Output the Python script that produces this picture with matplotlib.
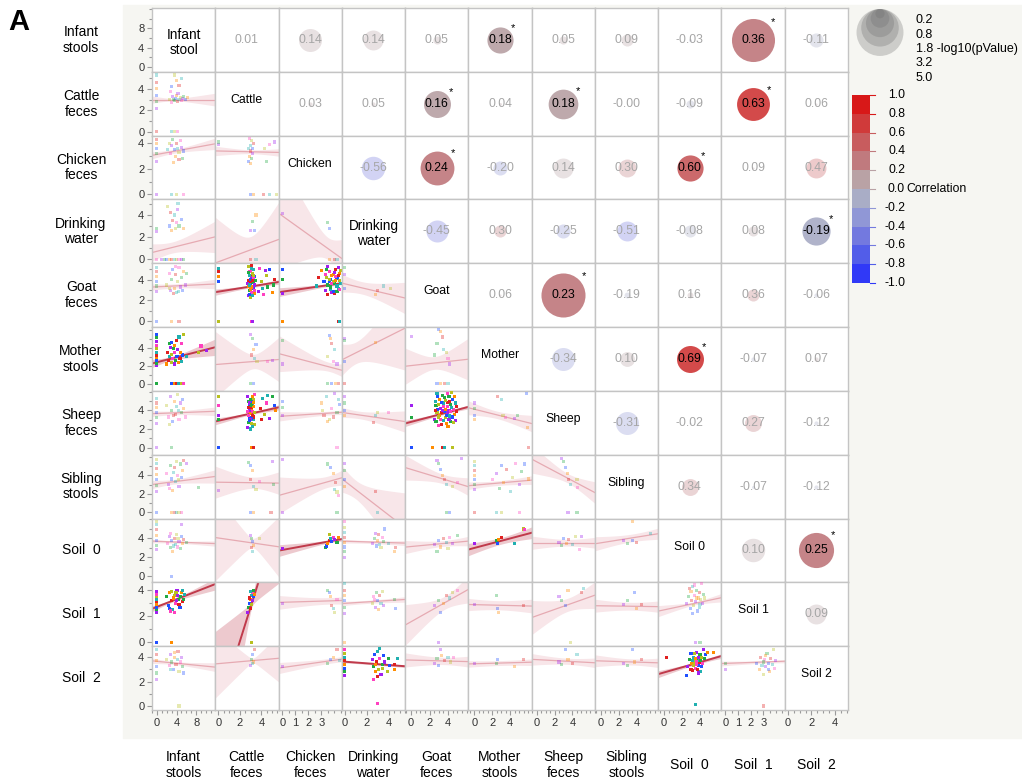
import matplotlib.pyplot as plt
import numpy as np
from matplotlib.colors import BoundaryNorm, ListedColormap
from matplotlib.patches import Circle, Rectangle
from matplotlib.ticker import MultipleLocator

plt.rcParams["font.family"] = ["Liberation Sans", "DejaVu Sans"]

W, H, DPI = 1022, 783, 100
GRID_X0, GRID_X1, GRID_Y0, GRID_Y1 = 152, 848, 8, 710

ROW_LABELS = ["Infant\nstools", "Cattle\nfeces", "Chicken\nfeces", "Drinking\nwater",
              "Goat\nfeces", "Mother\nstools", "Sheep\nfeces", "Sibling\nstools",
              "Soil  0", "Soil  1", "Soil  2"]
COL_LABELS = ROW_LABELS
DIAG_LABELS = ["Infant\nstool", "Cattle", "Chicken", "Drinking\nwater", "Goat", "Mother",
               "Sheep", "Sibling", "Soil 0", "Soil 1", "Soil 2"]

# axis scales per variable (x when in a column, y when in a row)
X_RANGE = [(-1.0, 11.9), (-0.28, 5.6), (-0.3, 4.57), (-0.27, 5.5), (-0.65, 6.2),
           (-0.67, 6.4), (-0.55, 6.5), (-0.67, 6.4), (-0.67, 6.4), (-0.3, 4.7), (-0.26, 5.1)]
Y_RANGE = [(-1.0, 12.2), (-0.37, 5.6), (-0.39, 4.6), (-0.36, 5.4), (-0.58, 5.6),
           (-0.78, 6.3), (-0.76, 6.1), (-0.65, 6.2), (-0.63, 6.1), (-0.3, 4.6), (-0.33, 4.9)]
X_TICKS = [[0, 4, 8], [0, 2, 4], [0, 1, 2, 3], [0, 2, 4], [0, 2, 4], [0, 2, 4],
           [0, 2, 4], [0, 2, 4], [0, 2, 4], [0, 1, 2, 3], [0, 2, 4]]
Y_TICKS = [[0, 4, 8]] + [[0, 2, 4]] * 10
X_MINOR = [1, 0.5, 0.5, 0.5, 0.5, 0.5, 0.5, 0.5, 0.5, 0.5, 0.5]
Y_MINOR = [2] + [1] * 10

# upper triangle: correlation and -log10(p), row i holds columns i+1..10
CORR = [
    [0.01, 0.14, 0.14, 0.05, 0.18, 0.05, 0.09, -0.03, 0.36, -0.11],
    [0.03, 0.05, 0.16, 0.04, 0.18, -0.0, -0.09, 0.63, 0.06],
    [-0.56, 0.24, -0.20, 0.14, 0.30, 0.60, 0.09, 0.47],
    [-0.45, 0.30, -0.25, -0.51, -0.08, 0.08, -0.19],
    [0.06, 0.23, -0.19, 0.16, 0.36, -0.06],
    [-0.34, 0.10, 0.69, -0.07, 0.07],
    [-0.31, -0.02, 0.27, -0.12],
    [0.34, -0.07, -0.12],
    [0.10, 0.25],
    [0.09],
]
NEGLOGP = [
    [0.0, 1.2, 0.9, 0.15, 1.55, 0.15, 0.33, 0.02, 4.2, 0.45],
    [0.04, 0.04, 1.65, 0.02, 2.0, 0.0, 0.15, 2.45, 0.01],
    [1.25, 2.6, 0.45, 0.9, 0.73, 1.55, 0.01, 0.9],
    [1.1, 0.33, 0.45, 0.9, 0.33, 0.23, 1.8],
    [0.01, 4.4, 0.08, 0.08, 0.33, 0.04],
    [1.2, 0.5, 1.65, 0.04, 0.04],
    [1.2, 0.01, 0.65, 0.04],
    [0.65, 0.02, 0.04],
    [1.25, 2.8],
    [0.9],
]
SIG_LEVEL = 1.3
LEGEND_P = [0.2, 0.8, 1.8, 3.2, 5.0]
CB_LEVELS = [1.0, 0.8, 0.6, 0.4, 0.2, 0.0, -0.2, -0.4, -0.6, -0.8, -1.0]

# lower triangle fits: row i holds columns 0..i-1
LINE_B0 = [
    [],
    [3.0],
    [3.13, 3.40],
    [0.72, -0.23, 3.91],
    [3.32, 2.85, 2.85, 3.61],
    [2.40, 2.17, 3.25, 2.83, 2.03],
    [3.67, 2.89, 3.39, 3.74, 2.77, 4.13],
    [3.07, 3.25, 1.94, 3.37, 4.63, 2.93, 5.45],
    [3.70, 4.05, 2.79, 3.71, 3.15, 3.00, 3.55, 3.54],
    [2.72, -5.20, 3.07, 2.99, 1.58, 2.89, 2.03, 2.80, 2.49],
    [3.66, 3.47, 3.15, 3.63, 3.76, 3.46, 3.80, 3.69, 2.75, 3.49],
]
LINE_B1 = [
    [],
    [0.0],
    [0.07, -0.02],
    [0.11, 0.36, -0.84],
    [0.023, 0.167, 0.18, -0.25],
    [0.14, 0.095, -0.38, 0.61, 0.114],
    [0.02, 0.257, 0.09, -0.17, 0.26, -0.24],
    [0.067, -0.017, 0.39, -0.91, -0.30, 0.085, -0.51],
    [-0.02, -0.165, 0.25, -0.036, 0.092, 0.25, 0.0, 0.15],
    [0.147, 2.63, 0.03, 0.054, 0.40, -0.017, 0.244, -0.01, 0.146],
    [-0.04, 0.078, 0.15, -0.068, -0.02, 0.02, -0.04, -0.024, 0.21, 0.038],
]
BAND_X0 = [
    [],
    [3.5],
    [3.5, 3.1],
    [3.0, 3.0, 3.5],
    [3.5, 3.1, 3.8, 1.5],
    [3.0, 3.3, 3.6, 1.0, 2.5],
    [3.5, 3.1, 3.6, 1.2, 3.7, 2.5],
    [3.5, 3.3, 3.5, 1.0, 3.5, 2.5, 3.5],
    [3.5, 3.2, 3.7, 2.0, 3.5, 3.0, 3.5, 3.5],
    [3.0, 3.1, 3.6, 2.0, 3.6, 2.5, 3.5, 3.3, 3.4],
    [3.5, 3.2, 3.8, 2.0, 3.5, 2.8, 3.5, 3.5, 3.7, 3.1],
]
BAND_A = [
    [],
    [0.1],
    [0.15, 0.15],
    [0.5, 1.2, 1.0],
    [0.2, 0.12, 0.12, 0.6],
    [0.2, 0.8, 0.5, 1.2, 0.7],
    [0.2, 0.12, 0.2, 0.4, 0.12, 0.4],
    [0.25, 0.6, 0.6, 1.0, 0.5, 0.25, 0.5],
    [0.12, 0.5, 0.15, 0.15, 0.3, 0.35, 0.35, 0.4],
    [0.1, 0.3, 0.25, 0.12, 0.5, 0.35, 0.5, 0.3, 0.12],
    [0.12, 0.2, 0.2, 0.08, 0.3, 0.2, 0.25, 0.25, 0.1, 0.1],
]
BAND_B = [
    [],
    [0.07],
    [0.05, 0.1],
    [0.15, 1.2, 1.3],
    [0.05, 0.08, 0.1, 0.35],
    [0.1, 1.0, 0.5, 1.0, 0.6],
    [0.05, 0.1, 0.12, 0.25, 0.07, 0.2],
    [0.08, 0.45, 0.5, 0.8, 0.3, 0.1, 0.35],
    [0.03, 1.3, 0.15, 0.06, 0.15, 0.15, 0.15, 0.15],
    [0.05, 2.0, 0.12, 0.05, 0.35, 0.1, 0.3, 0.1, 0.1],
    [0.04, 0.8, 0.1, 0.02, 0.12, 0.05, 0.1, 0.1, 0.06, 0.05],
]

# scatter points (x, y) read from each lower cell
pts_cattle_infant = [(0, 2.2), (0, 2.8), (0, 3.4), (0, 4.0), (0, 4.6), (0, 5.3), (2.5, 3.0), (3, 2.7),
                     (3.2, 3.3), (3.5, 2.9), (3.8, 3.1), (4, 3.4), (4.2, 2.8), (4.5, 3.0), (4.8, 3.2),
                     (5, 2.9), (5.3, 3.1), (5.5, 3.3), (3, 4.2), (4, 4.8), (4.5, 4.3), (5, 5.0), (3.6, 5.3),
                     (2.8, 3.8), (4.3, 3.6), (3.3, 3.0), (5.8, 3.0), (6.2, 3.2), (0, 0), (3, 0), (3.6, 0), (4.2, 0)]
pts_chicken_infant = [(0, 2.6), (0, 3.2), (0, 3.6), (0, 4.0), (0, 4.3), (2.2, 3.5), (2.5, 4.0), (2.8, 3.2),
                      (3, 3.8), (3.2, 4.3), (3.5, 3.5), (3.8, 3.0), (4, 4.0), (4.2, 3.6), (4.5, 3.3), (4.8, 4.2),
                      (5, 3.7), (5.3, 2.8), (5.5, 3.4), (3.3, 2.5), (4.5, 2.7), (3, 0), (4, 0), (5.5, 0), (0, 0)]
pts_chicken_cattle = [(0, 3.9), (0, 4.1), (2.8, 2.6), (2.9, 3.0), (3.0, 3.4), (3.0, 3.8), (3.1, 4.2), (2.9, 4.4),
                      (3.2, 3.2), (3.1, 2.8), (3.2, 3.6), (3.0, 2.4), (3.3, 4.0), (2.8, 3.6), (4.3, 3.6), (4.8, 3.9),
                      (5.2, 4.1), (4.5, 2.6), (3, 0), (3.3, 0), (4.2, 0), (4.8, 0), (5.4, 0)]
pts_drinking_infant = [(0, 2.5), (0, 2.8), (2.5, 3.0), (3, 2.6), (3.2, 3.5), (3.5, 4.0), (3.8, 2.8), (4, 3.3),
                       (4.2, 4.5), (4.5, 3.0), (5, 3.6), (5.5, 2.8), (2.8, 4.2), (4.3, 5.0), (2.2, 4.8), (0, 0),
                       (1, 0), (1.5, 0), (2, 0), (2.5, 0), (3, 0), (3.5, 0), (4, 0), (4.5, 0), (5, 0), (5.5, 0)]
pts_drinking_cattle = [(3.0, 2.6), (3.2, 3.4), (3.4, 2.6), (3.5, 4.0), (3, 0), (3.5, 0)]
pts_drinking_chicken = [(0, 4.1), (3.5, 3.3), (3.6, 2.8), (3.6, 0), (4.0, 0), (4.2, 0)]
pts_goat_infant = [(0, 2.9), (0, 3.4), (0, 3.8), (0, 4.3), (0, 4.8), (0, 5.2), (2, 3.5), (2.5, 4.6), (2.8, 3.0),
                   (3, 4.0), (3.2, 5.0), (3.5, 3.2), (3.8, 4.5), (4, 2.8), (4.2, 3.8), (4.5, 5.2), (4.8, 3.3),
                   (5, 4.2), (5.3, 3.0), (5.5, 4.8), (3.3, 2.7), (4.4, 2.9), (2.6, 3.2), (3.7, 5.3), (5.8, 3.5),
                   (6, 4.6), (0, 0), (3, 0), (4.5, 0)]
pts_goat_cattle = [(2.8, 2.5), (2.9, 3.0), (3.0, 3.5), (3.1, 4.0), (3.2, 4.5), (3.3, 5.0), (2.85, 5.3), (2.95, 4.8),
                   (3.05, 4.2), (3.15, 3.7), (3.25, 3.2), (3.35, 2.7), (2.8, 3.9), (2.9, 4.4), (3.0, 2.3), (3.1, 2.8),
                   (3.2, 3.3), (3.3, 3.8), (3.4, 4.3), (2.85, 3.4), (2.95, 3.8), (3.05, 5.1), (3.15, 4.6), (3.25, 4.1),
                   (3.35, 3.5), (2.8, 4.7), (2.9, 2.6), (3.0, 3.1), (3.1, 5.4), (3.2, 2.5), (3.3, 4.4), (3.4, 3.0),
                   (2.75, 3.6), (3.45, 3.9), (3.0, 4.0), (3.1, 3.3), (3.2, 3.9), (2.9, 3.5), (4.0, 3.8), (4.2, 2.6),
                   (4.4, 4.9), (4.6, 3.3), (4.8, 5.0), (5.0, 2.8), (5.2, 4.0), (4.1, 3.2), (4.5, 4.4), (3.8, 5.1),
                   (3.7, 2.9), (5.1, 3.5), (0, 3.8), (0, 4.3), (0, 4.8), (0, 5.1), (0, 0), (3.1, 0), (3.2, 0)]
pts_goat_chicken = [(3.3, 3.0), (3.5, 3.5), (3.7, 4.0), (3.9, 4.5), (4.1, 5.0), (4.3, 3.2), (3.4, 4.2), (3.6, 4.8),
                    (3.8, 2.8), (4.0, 3.6), (4.2, 4.1), (4.4, 4.6), (3.5, 2.6), (3.7, 3.1), (3.9, 3.8), (4.1, 4.3),
                    (4.3, 5.2), (3.4, 5.0), (3.6, 3.8), (3.8, 4.4), (4.0, 2.7), (4.2, 3.4), (4.4, 3.9), (3.3, 4.5),
                    (3.5, 5.3), (3.7, 3.3), (3.9, 2.9), (4.1, 3.9), (4.3, 4.4), (4.5, 3.6), (3.6, 4.0), (3.8, 3.6),
                    (4.0, 4.7), (4.2, 2.9), (3.2, 3.8), (3.0, 4.9), (2.8, 4.2), (2.6, 3.4), (4.5, 4.9), (4.4, 3.1),
                    (0, 2.7), (0, 4.0), (0, 5.0), (0, 0), (4.3, 0), (4.4, 0)]
pts_goat_drinking = [(0, 4.5), (0, 5.2), (0, 3.2), (2.8, 2.6), (3.0, 3.0), (3.5, 3.4), (4.2, 3.2)]
pts_mother_infant = [(0, 2.0), (0, 2.3), (0, 2.6), (0, 2.9), (0, 3.2), (0, 3.5), (0, 3.9), (0, 4.3), (0, 4.7),
                     (0, 5.1), (0, 5.5), (2, 2.2), (2.3, 2.6), (2.6, 3.0), (2.9, 2.4), (3.2, 2.8), (3.5, 2.2),
                     (3.8, 2.6), (4.1, 3.0), (4.4, 2.4), (4.7, 2.8), (5, 2.5), (3.0, 3.3), (3.6, 3.5), (4.2, 3.8),
                     (2.5, 4.5), (3.0, 4.6), (3.5, 4.3), (4.0, 4.8), (4.5, 5.2), (5.5, 5.5), (5.0, 4.5), (2.8, 4.0),
                     (3.3, 3.9), (5.3, 3.2), (4.8, 3.5), (2.2, 3.5), (6.0, 3.0), (8.5, 3.5), (9, 4.2), (10.2, 3.7),
                     (0, 0), (3, 0), (3.5, 0), (4, 0), (4.5, 0), (5, 0), (5.5, 0)]
pts_mother_cattle = [(3.0, 5.5), (3.2, 5.0), (3.5, 4.4), (3.3, 3.8), (3.1, 3.2), (3.4, 2.8), (3.6, 2.5),
                     (4.6, 2.5), (5.0, 2.6), (3, 0), (3.3, 0)]
pts_mother_chicken = [(0, 2.2), (0, 4.8), (3.6, 5.4), (3.7, 5.0), (3.8, 4.5), (4.0, 3.8), (3.5, 3.0), (3.9, 2.5),
                      (4.2, 2.2), (3.5, 0), (3.8, 0), (4.1, 0), (4.3, 0)]
pts_mother_drinking = [(0, 5.0), (0, 4.8), (0, 2.5), (2.8, 4.6), (0, 0)]
pts_mother_goat = [(0, 5.3), (2.8, 4.5), (3.0, 6.0), (3.2, 5.8), (3.4, 5.2), (3.5, 3.8), (3.8, 3.5), (4.0, 2.8),
                   (4.2, 2.2), (2.5, 3.2), (2.8, 0), (3.2, 0), (3.6, 0), (4.0, 0)]
pts_sheep_infant = [(0, 2.6), (0, 3.2), (0, 3.8), (0, 4.3), (0, 4.8), (0, 5.3), (2, 4.5), (2.4, 3.3), (2.8, 5.5),
                    (3, 4.0), (3.2, 2.8), (3.5, 5.0), (3.8, 3.6), (4, 4.4), (4.2, 5.7), (4.5, 3.0), (4.8, 4.8),
                    (5, 3.8), (5.3, 5.2), (5.5, 4.2), (3.3, 3.5), (4.4, 4.0), (2.6, 2.5), (5.8, 3.3), (0, 0), (3, 0)]
pts_sheep_cattle = [(2.7, 2.2), (2.8, 2.7), (2.9, 3.2), (3.0, 3.7), (3.1, 4.2), (3.2, 4.7), (3.3, 5.2), (3.4, 5.7),
                    (2.75, 5.5), (2.85, 5.0), (2.95, 4.5), (3.05, 4.0), (3.15, 3.5), (3.25, 3.0), (3.35, 2.5),
                    (2.8, 3.5), (2.9, 4.0), (3.0, 4.5), (3.1, 5.0), (3.2, 5.5), (3.3, 3.3), (3.0, 2.0), (3.1, 2.6),
                    (3.2, 3.9), (2.9, 4.8), (3.0, 5.2), (3.1, 3.1), (3.3, 4.4), (2.8, 4.3), (3.2, 2.3), (3.4, 3.8),
                    (2.7, 3.9), (3.0, 3.0), (3.1, 4.6), (2.9, 2.9), (3.3, 4.9), (3.9, 4.2), (4.1, 5.3), (4.3, 3.6),
                    (4.5, 4.8), (4.8, 3.1), (5.0, 5.5), (5.2, 4.5), (5.3, 4.0), (4.0, 3.0), (4.6, 5.6),
                    (0, 5.5), (0, 4.5), (0, 3.5), (0, 3.0), (0, 0), (3.1, 0), (3.3, 0)]
pts_sheep_chicken = [(0, 3.5), (0, 4.3), (0, 5.0), (3.0, 4.8), (3.2, 3.5), (3.4, 5.5), (3.6, 3.0), (3.8, 4.2),
                     (4.0, 5.8), (4.2, 3.8), (4.4, 4.6), (3.5, 2.8), (3.9, 3.3), (4.3, 5.2), (3.1, 4.0), (4.2, 0)]
pts_sheep_drinking = [(0, 5.5), (0, 4.8), (0, 4.0), (0, 3.5), (2.6, 2.7), (2.8, 3.5), (3.0, 3.8), (4.0, 3.8)]
pts_sheep_goat = [(2.5, 3.0), (2.7, 4.5), (2.9, 5.5), (3.1, 3.5), (3.3, 2.5), (3.5, 4.8), (3.7, 3.2), (3.9, 5.8),
                  (4.1, 4.0), (4.3, 2.8), (4.5, 5.2), (4.7, 3.6), (4.9, 4.4), (2.6, 5.0), (2.8, 3.8), (3.0, 2.4),
                  (3.2, 4.2), (3.4, 5.6), (3.6, 3.9), (3.8, 2.6), (4.0, 4.9), (4.2, 3.4), (4.4, 5.9), (4.6, 4.1),
                  (4.8, 2.9), (2.7, 2.8), (2.9, 4.1), (3.1, 5.2), (3.3, 3.8), (3.5, 2.9), (3.7, 5.1), (3.9, 4.4),
                  (4.1, 3.0), (4.3, 4.6), (4.5, 3.3), (4.7, 5.5), (4.9, 3.9), (2.8, 5.8), (3.0, 4.6), (3.2, 3.0),
                  (3.4, 4.0), (3.6, 5.4), (3.8, 3.5), (4.0, 2.3), (4.2, 5.0), (4.4, 4.3), (4.6, 2.7), (3.5, 4.4),
                  (3.9, 3.8), (4.1, 5.5), (3.3, 4.9), (3.7, 4.1), (2.6, 4.0), (4.8, 4.8), (3.0, 3.3), (4.3, 3.9),
                  (0, 4.5), (0, 3.2), (0, 0), (2.3, 0), (3.4, 0), (3.6, 0), (4.5, 0)]
pts_sheep_mother = [(0, 4.8), (0, 4.2), (0, 3.5), (0, 3.0), (2.6, 5.5), (3.0, 5.2), (3.2, 3.5), (3.5, 3.2),
                    (4.5, 3.1), (4.8, 3.5), (5.8, 5.8), (5.9, 2.2), (6.0, 0)]
pts_sibling_infant = [(0, 2.3), (0, 2.9), (0, 3.5), (0, 4.1), (0, 4.7), (0, 5.3), (0, 5.7), (2, 4.2), (2.4, 3.0),
                      (2.8, 5.0), (3, 3.6), (3.2, 2.4), (3.5, 4.8), (3.8, 3.3), (4, 5.5), (4.2, 4.0), (4.5, 2.8),
                      (4.8, 5.2), (5, 3.8), (5.3, 4.5), (5.5, 5.6), (3.3, 4.3), (4.4, 3.5), (2.6, 2.6), (6, 5.3),
                      (8.5, 2.7), (0, 0), (3, 0), (3.5, 0), (4, 0), (4.5, 0), (5, 0)]
pts_sibling_cattle = [(0, 2.4), (2.8, 5.4), (3.0, 5.0), (3.2, 4.5), (3.0, 3.5), (3.3, 2.8), (3.5, 2.5), (3.8, 3.3),
                      (5.0, 5.5), (5.1, 3.0), (3.0, 0), (3.3, 0), (4.9, 0)]
pts_sibling_chicken = [(0, 5.7), (3.5, 5.2), (3.7, 4.8), (3.9, 4.2), (4.1, 3.2), (4.0, 2.5), (4.2, 2.2), (4.3, 1.8),
                       (0, 0), (4.2, 0)]
pts_sibling_drinking = [(0, 5.3), (0, 4.5), (0, 3.5), (0, 2.8), (2.8, 2.3), (3.0, 0.0)]
pts_sibling_goat = [(2.8, 5.6), (3.0, 5.3), (3.2, 4.6), (3.4, 4.0), (3.6, 3.5), (3.8, 3.0), (4.5, 2.8), (5.0, 3.2),
                    (5.5, 5.8), (3.8, 0), (4.2, 0)]
pts_sibling_mother = [(0, 2.5), (0, 3.0), (0, 3.5), (0, 4.0), (0, 4.5), (0, 5.0), (0, 5.5), (2, 3.5), (2.5, 4.2),
                      (2.8, 2.6), (3.0, 5.0), (3.3, 3.2), (3.6, 4.6), (4.0, 2.3), (4.3, 3.8), (4.6, 5.3), (5.0, 3.0),
                      (5.3, 4.4), (5.6, 5.2), (6.0, 3.6), (0, 0), (2.5, 0), (3.0, 0), (5.0, 0)]
pts_sibling_sheep = [(2.8, 5.8), (3.0, 5.5), (3.2, 4.8), (3.4, 4.2), (3.6, 3.5), (3.8, 3.0), (4.5, 3.5), (4.6, 2.7),
                     (3.5, 0), (4.5, 0)]
pts_soil0_infant = [(0, 2.8), (0, 3.3), (0, 3.8), (0, 4.3), (0, 4.9), (0, 5.5), (0, 5.8), (2.2, 3.5), (2.5, 4.2),
                    (2.8, 3.0), (3, 3.8), (3.2, 2.6), (3.5, 4.0), (3.8, 3.4), (4, 4.4), (4.2, 3.1), (4.5, 3.7),
                    (4.8, 2.9), (5, 4.2), (5.2, 3.5), (5.5, 3.9), (3.3, 3.2), (4.3, 4.0), (2.7, 4.5), (5, 5.5),
                    (6, 3.6), (3, 0)]
pts_soil0_cattle = [(3.0, 4.3), (3.1, 4.0), (3.2, 3.7), (3.3, 3.3), (3.1, 3.0), (3.2, 2.6), (3.8, 4.0)]
pts_soil0_chicken = [(0, 2.9), (3.3, 3.0), (3.4, 3.2), (3.5, 3.5), (3.6, 3.8), (3.7, 4.0), (3.6, 4.4), (3.9, 4.1),
                     (4.0, 3.9), (4.2, 3.6), (3.8, 3.7), (4.3, 4.1)]
pts_soil0_drinking = [(0, 2.0), (0, 2.6), (0, 3.1), (0, 3.6), (0, 4.1), (0, 4.6), (0, 5.2), (0, 5.8), (2.5, 3.5),
                      (2.7, 4.0), (2.9, 3.2), (3.0, 3.8), (3.1, 4.4), (3.2, 3.4), (3.3, 3.0), (3.4, 4.1), (2.8, 4.5),
                      (3.5, 3.7), (3.6, 5.0), (4.5, 2.6), (4.6, 3.0), (4.0, 3.5)]
pts_soil0_goat = [(2.5, 3.4), (2.8, 2.6), (3.0, 3.8), (3.2, 3.1), (3.5, 4.0), (3.8, 3.6), (4.0, 2.9), (4.2, 4.1),
                  (4.5, 3.5), (5.0, 4.3)]
pts_soil0_mother = [(0, 3.5), (2.5, 3.8), (2.6, 3.5), (2.7, 3.9), (3.0, 4.1), (4.5, 3.5), (5.5, 5.0), (5.6, 4.9)]
pts_soil0_sheep = [(2.5, 3.6), (2.8, 3.3), (3.0, 4.0), (3.3, 3.5), (3.6, 3.9), (4.0, 3.4), (4.3, 4.2), (4.8, 2.8),
                   (5.0, 4.2)]
pts_soil0_sibling = [(2.5, 3.8), (3.0, 3.5), (3.5, 3.8), (3.5, 5.8), (4.0, 3.6), (5.5, 4.5)]
pts_soil1_infant = [(0, 2.3), (0, 2.5), (0, 2.7), (0, 2.9), (0, 3.1), (0, 3.3), (0, 3.5), (0, 3.7), (0, 3.9),
                    (2, 3.5), (2.3, 2.8), (2.6, 3.8), (2.9, 3.2), (3.2, 2.5), (3.5, 3.6), (3.8, 3.0), (4.1, 4.0),
                    (4.4, 3.3), (4.7, 2.7), (5.0, 3.8), (5.3, 3.1), (5.6, 3.7), (3.0, 3.9), (3.6, 2.3), (4.2, 3.6),
                    (4.8, 3.5), (2.5, 2.6), (3.3, 3.4), (4.5, 2.9), (5.2, 4.0), (3.9, 3.8), (2.8, 2.4), (4.0, 3.2),
                    (5.5, 3.3), (0, 0), (3, 0)]
pts_soil1_cattle = [(2.7, 2.3), (2.8, 2.7), (2.9, 3.0), (3.0, 3.3), (3.0, 2.6), (3.1, 3.6), (3.1, 2.9), (3.2, 3.8),
                    (3.2, 3.2), (3.3, 4.0), (3.3, 3.5), (3.4, 3.7), (2.9, 3.4), (3.0, 3.9), (3.1, 0)]
pts_soil1_chicken = [(0, 3.0), (3.5, 4.0), (3.6, 3.8), (3.7, 3.5), (3.8, 2.8), (3.9, 2.6), (4.0, 2.3), (4.2, 3.3)]
pts_soil1_drinking = [(0, 2.2), (0, 2.7), (0, 3.2), (0, 3.6), (0, 4.0), (0, 4.5), (2.5, 3.0), (2.6, 3.5), (2.8, 2.7),
                      (2.9, 3.8), (3.0, 3.2), (3.1, 2.5), (3.2, 3.6), (3.3, 3.0), (3.4, 3.9), (2.7, 3.3), (3.5, 2.8),
                      (4.5, 3.3), (4.6, 2.6), (0, 0)]
pts_soil1_goat = [(2.5, 2.8), (3.0, 3.2), (3.2, 2.3), (3.5, 3.0), (3.8, 3.6), (4.2, 3.4), (4.5, 3.8), (5.0, 4.0),
                  (3.0, 0)]
pts_soil1_mother = [(0, 2.9), (2.5, 3.6), (2.6, 2.6), (2.7, 2.3), (5.5, 2.8)]
pts_soil1_sheep = [(2.5, 3.5), (2.8, 3.2), (3.2, 2.8), (3.5, 4.0), (5.0, 3.8), (5.2, 4.1), (3.8, 0)]
pts_soil1_sibling = [(2.5, 2.9), (3.0, 3.2), (3.8, 3.8), (4.0, 2.6), (4.5, 2.9)]
pts_soil1_soil0 = [(2.5, 3.0), (2.7, 3.5), (2.9, 2.6), (3.0, 3.9), (3.1, 3.2), (3.2, 4.3), (3.3, 2.8), (3.4, 3.6),
                   (3.5, 3.1), (3.6, 4.0), (3.7, 2.4), (3.8, 3.4), (3.9, 3.8), (4.0, 2.9), (4.1, 3.3), (4.2, 4.5),
                   (4.3, 3.0), (4.4, 3.7), (3.2, 2.2), (3.6, 3.4), (2.8, 4.1), (3.9, 2.7), (4.5, 3.4), (3.4, 4.4),
                   (3.5, 0), (4.0, 0)]
pts_soil2_infant = [(0, 2.2), (0, 2.7), (0, 3.2), (0, 3.7), (0, 4.2), (0, 4.6), (2, 3.8), (2.5, 3.3), (2.8, 4.2),
                    (3, 3.6), (3.3, 3.0), (3.6, 4.0), (3.9, 3.4), (4.2, 3.8), (4.5, 2.8), (4.8, 3.6), (5, 4.0),
                    (5.3, 3.2), (5.5, 2.7), (3.5, 4.4), (4.3, 4.5), (2.7, 3.0), (4.5, 0)]
pts_soil2_cattle = [(3.0, 3.3), (3.1, 3.8), (3.2, 4.2), (3.3, 3.6), (3.4, 4.6), (3.2, 3.5)]
pts_soil2_chicken = [(0, 3.2), (3.5, 3.5), (3.7, 3.8), (3.9, 4.0), (4.2, 4.6), (4.4, 3.7)]
pts_soil2_drinking = [(0, 2.5), (0, 2.8), (0, 3.1), (0, 3.4), (0, 3.7), (0, 4.0), (0, 4.3), (0, 4.6), (2.5, 3.8),
                      (2.6, 3.2), (2.7, 4.2), (2.8, 2.8), (2.9, 3.6), (3.0, 4.5), (3.1, 3.0), (3.2, 3.9), (3.3, 2.6),
                      (3.4, 3.4), (3.5, 4.1), (2.8, 3.4), (3.0, 2.4), (3.2, 4.7), (3.4, 3.1), (2.6, 2.2), (3.6, 3.6),
                      (4.0, 3.9), (4.1, 3.3), (4.5, 3.0), (4.5, 3.4), (4.8, 3.9), (3.9, 2.8), (3.0, 0.2)]
pts_soil2_goat = [(2.5, 3.5), (2.8, 3.9), (3.0, 3.3), (3.3, 4.1), (3.6, 3.7), (4.0, 4.0), (4.3, 3.6), (4.6, 4.0),
                  (3.2, 4.6)]
pts_soil2_mother = [(0, 3.5), (2.5, 3.5), (2.6, 3.8), (4.5, 3.2), (5.5, 3.8)]
pts_soil2_sheep = [(2.5, 3.6), (2.8, 3.4), (3.2, 4.6), (3.5, 3.8), (4.0, 3.5), (4.5, 4.2)]
pts_soil2_sibling = [(2.5, 3.5), (3.0, 3.3), (3.5, 4.6), (3.8, 3.6), (4.5, 3.8)]
pts_soil2_soil0 = [(2.6, 3.2), (2.8, 3.8), (3.0, 4.3), (3.1, 3.5), (3.2, 2.9), (3.3, 4.0), (3.4, 3.6), (3.5, 3.1),
                   (3.6, 4.4), (3.7, 3.8), (3.8, 3.3), (3.9, 4.1), (4.0, 3.6), (4.1, 2.8), (4.2, 4.0), (4.3, 3.5),
                   (4.4, 4.6), (4.5, 3.9), (4.6, 4.2), (4.8, 4.4), (3.0, 3.0), (3.2, 3.7), (3.4, 4.3), (3.6, 3.4),
                   (3.8, 2.7), (4.0, 4.2), (4.2, 3.2), (3.5, 3.9), (3.7, 3.0), (3.9, 3.7), (3.3, 3.3), (3.6, 3.6),
                   (3.8, 4.0), (4.1, 3.7), (2.5, 2.5), (5.5, 4.4), (0.3, 4.0), (3.5, 0.1)]
pts_soil2_soil1 = [(0, 3.0), (0, 3.5), (2.5, 3.5), (2.7, 3.0), (2.8, 4.0), (2.9, 3.3), (3.0, 2.6), (3.1, 3.8),
                   (3.2, 3.2), (3.3, 4.3), (3.4, 3.5), (3.5, 2.8), (3.6, 3.9), (3.7, 3.4), (3.8, 4.6), (3.9, 3.1),
                   (4.0, 3.7), (3.0, 3.6), (3.4, 3.0), (3.2, 4.1), (3, 0)]

POINTS = {
    (1, 0): pts_cattle_infant,
    (2, 0): pts_chicken_infant, (2, 1): pts_chicken_cattle,
    (3, 0): pts_drinking_infant, (3, 1): pts_drinking_cattle, (3, 2): pts_drinking_chicken,
    (4, 0): pts_goat_infant, (4, 1): pts_goat_cattle, (4, 2): pts_goat_chicken, (4, 3): pts_goat_drinking,
    (5, 0): pts_mother_infant, (5, 1): pts_mother_cattle, (5, 2): pts_mother_chicken,
    (5, 3): pts_mother_drinking, (5, 4): pts_mother_goat,
    (6, 0): pts_sheep_infant, (6, 1): pts_sheep_cattle, (6, 2): pts_sheep_chicken,
    (6, 3): pts_sheep_drinking, (6, 4): pts_sheep_goat, (6, 5): pts_sheep_mother,
    (7, 0): pts_sibling_infant, (7, 1): pts_sibling_cattle, (7, 2): pts_sibling_chicken,
    (7, 3): pts_sibling_drinking, (7, 4): pts_sibling_goat, (7, 5): pts_sibling_mother,
    (7, 6): pts_sibling_sheep,
    (8, 0): pts_soil0_infant, (8, 1): pts_soil0_cattle, (8, 2): pts_soil0_chicken,
    (8, 3): pts_soil0_drinking, (8, 4): pts_soil0_goat, (8, 5): pts_soil0_mother,
    (8, 6): pts_soil0_sheep, (8, 7): pts_soil0_sibling,
    (9, 0): pts_soil1_infant, (9, 1): pts_soil1_cattle, (9, 2): pts_soil1_chicken,
    (9, 3): pts_soil1_drinking, (9, 4): pts_soil1_goat, (9, 5): pts_soil1_mother,
    (9, 6): pts_soil1_sheep, (9, 7): pts_soil1_sibling, (9, 8): pts_soil1_soil0,
    (10, 0): pts_soil2_infant, (10, 1): pts_soil2_cattle, (10, 2): pts_soil2_chicken,
    (10, 3): pts_soil2_drinking, (10, 4): pts_soil2_goat, (10, 5): pts_soil2_mother,
    (10, 6): pts_soil2_sheep, (10, 7): pts_soil2_sibling, (10, 8): pts_soil2_soil0,
    (10, 9): pts_soil2_soil1,
}

# colour bins of the correlation scale, from -1 upward
CB_COLORS = ["#3039f7", "#525de9", "#7379df", "#9097d6", "#a9adc6",
             "#b9a2a5", "#c07a7e", "#c85c5e", "#d03a3a", "#d81818"]
PALETTE = ["#a020f0", "#22aa44", "#2050ff", "#ff8c00", "#e02020", "#20b0b0", "#b8c020", "#ff40c0"]
CELL_BORDER = "#c4c4c4"
PANEL_BG = "#f6f6f2"

cmap = ListedColormap(CB_COLORS)
norm = BoundaryNorm(np.linspace(-1, 1, 11), cmap.N)
PX_PER_PT = DPI / 72


def px_box(x, y, w, h):
    return [x / W, 1 - (y + h) / H, w / W, h / H]


def circle_diam_px(neglogp):
    return 21 * np.sqrt(neglogp)


fig = plt.figure(figsize=(W / DPI, H / DPI), dpi=DPI)
fig.add_artist(Rectangle((123 / W, 1 - 738 / H), (W - 123) / W, 733 / H,
                         transform=fig.transFigure, color=PANEL_BG, zorder=0))
fig.text(8 / W, 1 - 8 / H, "A", fontsize=21, fontweight="bold", va="top", ha="left")

n = len(ROW_LABELS)
cw = (GRID_X1 - GRID_X0) / n
ch = (GRID_Y1 - GRID_Y0) / n

for i in range(n):
    for j in range(n):
        ax = fig.add_axes(px_box(GRID_X0 + j * cw, GRID_Y0 + i * ch, cw, ch))
        ax.set_facecolor("white")
        for spine in ax.spines.values():
            spine.set_color(CELL_BORDER)
            spine.set_linewidth(1.0)

        if i == j:
            single = "\n" not in DIAG_LABELS[i]
            ax.text(0.5, 0.56 if single else 0.46, DIAG_LABELS[i], transform=ax.transAxes,
                    ha="center", va="center", fontsize=8.8 if single else 9.8, linespacing=1.1)
        elif j > i:
            r = CORR[i][j - i - 1]
            p = NEGLOGP[i][j - i - 1]
            sig = p > SIG_LEVEL
            d_pt = circle_diam_px(p) / PX_PER_PT
            ax.scatter([0.5], [0.5], s=d_pt ** 2, transform=ax.transAxes, color=cmap(norm(r)),
                       alpha=0.92 if sig else 0.32, linewidths=0, clip_on=False, zorder=2)
            ax.text(0.5, 0.5, f"{r:.2f}", transform=ax.transAxes, ha="center", va="center",
                    fontsize=8.8, color="black" if sig else "#a6a6a6", zorder=3)
            if sig:
                rad = circle_diam_px(p) / 2
                ax.annotate("*", xy=(0.5, 0.5), xycoords="axes fraction",
                            xytext=(0.8 * rad + 3, 0.8 * rad + 1), textcoords="offset pixels",
                            ha="center", va="center", fontsize=8)
        else:
            sig = NEGLOGP[j][i - j - 1] > SIG_LEVEL
            pts = np.array(POINTS[(i, j)], dtype=float)
            xs = np.linspace(X_RANGE[j][0], X_RANGE[j][1], 150)
            fit = LINE_B0[i][j] + LINE_B1[i][j] * xs
            half = np.sqrt(BAND_A[i][j] ** 2 + (BAND_B[i][j] * (xs - BAND_X0[i][j])) ** 2)
            ax.fill_between(xs, fit - half, fit + half, color="#edc9ce" if sig else "#f8e6e9",
                            linewidth=0, zorder=1)
            ax.plot(xs, fit, color="#c03a4b" if sig else "#e6aab2",
                    linewidth=1.4 if sig else 0.9, zorder=2)
            colors = [PALETTE[k % len(PALETTE)] for k in range(len(pts))]
            ax.scatter(pts[:, 0], pts[:, 1], s=5, marker="s", c=colors,
                       alpha=1.0 if sig else 0.35, linewidths=0, zorder=3)

        ax.set_xlim(*X_RANGE[j])
        ax.set_ylim(*Y_RANGE[i])
        ax.tick_params(which="both", direction="out", color="#9a9a9a", width=0.8,
                       labelsize=8, labelcolor="#333333", pad=2,
                       left=(j == 0), labelleft=(j == 0),
                       bottom=(i == n - 1), labelbottom=(i == n - 1))
        ax.tick_params(which="major", length=3.5)
        ax.tick_params(which="minor", length=2)
        if j == 0:
            ax.set_yticks(Y_TICKS[i])
            ax.yaxis.set_minor_locator(MultipleLocator(Y_MINOR[i]))
        else:
            ax.set_yticks([])
        if i == n - 1:
            ax.set_xticks(X_TICKS[j])
            ax.xaxis.set_minor_locator(MultipleLocator(X_MINOR[j]))
        else:
            ax.set_xticks([])

for i, label in enumerate(ROW_LABELS):
    fig.text(81 / W, 1 - (GRID_Y0 + (i + 0.5) * ch) / H, label, ha="center", va="center",
             fontsize=10, linespacing=1.15)
for j, label in enumerate(COL_LABELS):
    fig.text((GRID_X0 + (j + 0.5) * cw) / W, 1 - 765 / H, label, ha="center", va="center",
             fontsize=10, linespacing=1.15)

# size legend
ax_leg = fig.add_axes(px_box(848, 0, 174, 90))
ax_leg.set_xlim(848, 1022)
ax_leg.set_ylim(90, 0)
ax_leg.axis("off")
for k, p in enumerate(LEGEND_P):
    rad = circle_diam_px(p) / 2
    ax_leg.add_patch(Circle((880, 9 + rad), rad, facecolor="#707070", alpha=0.3, linewidth=0))
    label = f"{p:.1f}" + (" -log10(pValue)" if k == 2 else "")
    ax_leg.text(916, 20 + k * 14.5, label, ha="left", va="center", fontsize=9)

# correlation colour scale
ax_cb = fig.add_axes(px_box(852, 95, 18, 188))
edges = np.linspace(-1, 1, 11)
for k in range(len(CB_COLORS)):
    ax_cb.bar(0.5, edges[k + 1] - edges[k], bottom=edges[k], width=1.0, color=CB_COLORS[k], linewidth=0)
ax_cb.set_xlim(0, 1)
ax_cb.set_ylim(-1, 1)
ax_cb.axis("off")
for v in CB_LEVELS:
    y_px = 95 + (1 - v) / 2 * 188
    tick_color = cmap(norm(min(max(v, -0.99), 0.99)))
    ax_cb.plot([1.0, 1.25], [v, v], color=tick_color, linewidth=0.8, clip_on=False)
    fig.text(905 / W, 1 - y_px / H, f"{v:.1f}", ha="right", va="center", fontsize=8.8)
fig.text(906 / W, 1 - (95 + 94) / H, "Correlation", ha="left", va="center", fontsize=8.8)

fig.savefig("out.png", dpi=DPI, facecolor="white")
